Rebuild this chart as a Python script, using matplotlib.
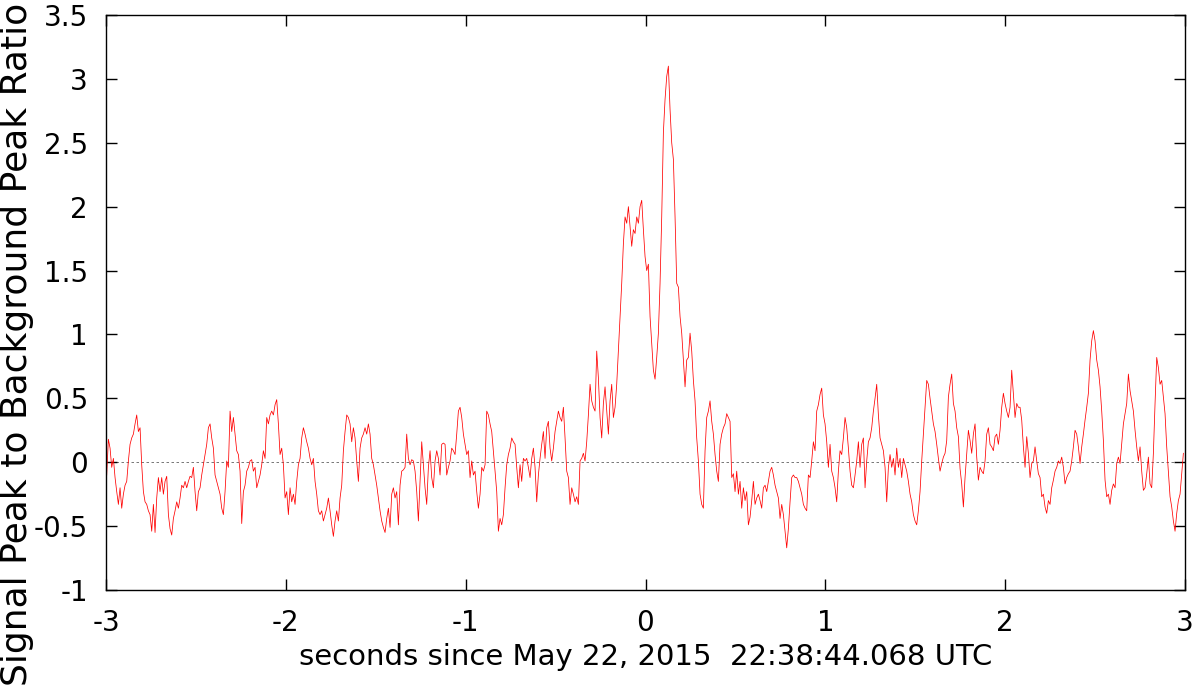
import numpy as np
import matplotlib
matplotlib.use("Agg")
import matplotlib.pyplot as plt
from matplotlib.ticker import FuncFormatter

# Signal-peak / background-peak ratio.
# Uniformly sampled from T_START to T_END (seconds), split into chunks.
T_START = -2.996
T_END = 2.991

ratio_a = [
    -0.10, 0.18, 0.11, -0.04, 0.03, -0.12, -0.23, -0.33, -0.20, -0.36,
    -0.25, -0.18, -0.15, 0.01, 0.14, 0.19, 0.22, 0.30, 0.37, 0.24,
    0.27, -0.02, -0.23, -0.31, -0.33, -0.38, -0.41, -0.54, -0.33, -0.55,
    -0.28, -0.12, -0.23, -0.12, -0.25, -0.15, -0.11, -0.41, -0.52, -0.57,
    -0.44, -0.38, -0.31, -0.36, -0.28, -0.18, -0.20, -0.15, -0.20, -0.15,
    -0.11, -0.12, -0.04, -0.23, -0.38, -0.23, -0.20, -0.10, -0.02, 0.06,
    0.14, 0.27, 0.30, 0.19, 0.11, -0.10, -0.15, -0.20, -0.25, -0.36,
    -0.41, -0.23, 0.01, -0.04, 0.40, 0.24, 0.35, 0.22, 0.09, 0.06,
    -0.07, -0.48, -0.23, -0.18, -0.07, -0.04, 0.01, 0.02, -0.07, -0.04,
    -0.20, -0.15, -0.10, -0.02, 0.09, 0.03, 0.35, 0.30, 0.37, 0.40,
    0.37, 0.45, 0.49, 0.30, 0.06, 0.11, -0.02, -0.28, -0.23, -0.41,
    -0.20, -0.31, -0.25, -0.33, -0.15, -0.02, 0.03,
]

ratio_b = [
    0.19, 0.27, 0.22, 0.16, 0.11, 0.03, -0.02, 0.03,
    -0.15, -0.25, -0.38, -0.41, -0.38, -0.46, -0.41, -0.36, -0.28, -0.38,
    -0.49, -0.58, -0.46, -0.38, -0.46, -0.28, -0.18, 0.09, 0.24, 0.37,
    0.35, 0.30, 0.16, 0.27, 0.19, 0.01, -0.15, 0.11, 0.19, 0.22,
    0.27, 0.22, 0.30, 0.22, 0.03, -0.02, -0.10, -0.18, -0.28, -0.38,
    -0.46, -0.51, -0.55, -0.44, -0.36, -0.51, -0.25, -0.20, -0.28, -0.23,
    -0.49, -0.18, -0.07, -0.06, -0.04, 0.22, 0.03, -0.02, 0.02, 0.01,
    -0.07, -0.23, -0.46, -0.15, 0.16, -0.02, -0.20, -0.33, -0.04, 0.09,
    -0.12, -0.20, 0.01, 0.09, 0.03, -0.10, 0.14, 0.15, 0.14, -0.10,
    -0.04, 0.01, 0.11, 0.09, 0.06, 0.22, 0.40, 0.43, 0.35, 0.22,
    0.14, 0.06, 0.09, -0.12, 0.01, -0.10, -0.07, -0.23, -0.36, -0.25,
]

ratio_c = [
    -0.04, -0.07, -0.02, 0.40, 0.37, 0.30, 0.24, 0.09, -0.07, -0.23,
    -0.54, -0.44, -0.49, -0.41, -0.20, -0.02, 0.06, 0.11, 0.19, 0.16,
    0.14, -0.04, -0.20, -0.02, -0.15, 0.03, 0.01, 0.03, -0.04, -0.12,
    0.03, 0.11, -0.04, -0.31, -0.10, 0.03, 0.14, 0.24, 0.03, 0.27,
    0.32, 0.11, 0.01, 0.11, 0.24, 0.32, 0.40, 0.35, 0.32, 0.43,
    0.19, -0.07, -0.12, -0.33, -0.20, -0.25, -0.31, -0.27, -0.33, 0.01,
    0.03, 0.07, 0.01, 0.16, 0.37, 0.61, 0.48, 0.43,
]

# the burst
ratio_d = [
    0.40, 0.87, 0.66, 0.35, 0.19, 0.46, 0.59, 0.40, 0.22, 0.48,
    0.61, 0.35, 0.43, 0.61, 0.87, 1.14, 1.40, 1.71, 1.92, 1.87,
    2.00, 1.84, 1.69, 1.82, 1.79, 1.92, 1.87, 2.00, 2.05, 1.82,
    1.61, 1.50, 1.55, 1.14, 0.93, 0.72, 0.65, 0.82, 1.01, 1.40,
    1.92, 2.58, 2.84, 3.02, 3.10, 2.76, 2.50, 2.37, 1.92, 1.40,
    1.37, 1.14, 1.01, 0.80, 0.59, 0.80, 0.82, 1.01, 0.87, 0.64,
    0.48, 0.19, 0.01, -0.25, -0.33, -0.36, 0.09, 0.35, 0.40, 0.48,
    0.32, 0.22, 0.06, -0.07, -0.15, 0.14, 0.22, 0.27, 0.30, 0.38,
    0.35, 0.32, -0.12, -0.09, -0.23, -0.07, -0.25, -0.15, -0.36, -0.20,
    -0.30, -0.23, -0.49, -0.43, -0.30, -0.15, -0.33, -0.28, -0.25, -0.30,
]

ratio_e = [
    -0.36, -0.20, -0.18, -0.23, -0.15, -0.07, -0.04, -0.10,
    -0.18, -0.23, -0.28, -0.44, -0.33, -0.41, -0.54, -0.67, -0.52, -0.31,
    -0.12, -0.10, -0.12, -0.12, -0.15, -0.20, -0.25, -0.33, -0.36, -0.38,
    -0.10, -0.12, 0.01, 0.16, 0.09, 0.40, 0.45, 0.53, 0.58, 0.37,
    0.30, 0.16, -0.04, 0.14, -0.07, -0.12, -0.20, -0.31, -0.07, 0.09,
    0.06, 0.19, 0.35, 0.27, 0.11, -0.07, -0.18, -0.20, -0.10, 0.01,
    0.16, -0.04, 0.14, 0.19, -0.20, 0.01, 0.16, 0.19, 0.27, 0.40,
    0.50, 0.61, 0.37, 0.19, 0.14, 0.09, -0.04, -0.31, -0.04, 0.06,
    -0.04, 0.03, -0.10, 0.11, -0.04, 0.03, -0.12, 0.03, -0.02, -0.07,
    -0.15, -0.25, -0.31, -0.41, -0.46, -0.49, -0.38, -0.23, 0.01, 0.22,
    0.43, 0.64, 0.61, 0.50, 0.40, 0.30, 0.24, 0.14, 0.03, -0.07,
]

ratio_f = [
    -0.01, 0.04, 0.07, 0.17, 0.51, 0.61, 0.69, 0.46, 0.40, 0.27,
    0.20, -0.05, -0.17, -0.35, -0.12, 0.07, 0.25, 0.17, 0.07, 0.22,
    0.30, 0.04, -0.14, -0.04, -0.07, -0.09, 0.01, 0.22, 0.27, 0.14,
    0.12, 0.09, 0.20, 0.22, 0.14, 0.25, 0.43, 0.54, 0.46, 0.40,
    0.35, 0.43, 0.72, 0.54, 0.35, 0.46, 0.43, 0.43, 0.33, 0.12,
    -0.04, 0.20, 0.07, -0.12, -0.01, 0.01, 0.12, 0.01, -0.09, -0.12,
    -0.27, -0.25, -0.35, -0.40, -0.30, -0.33, -0.20, -0.14, -0.07, -0.04,
    0.01, -0.01, 0.04, -0.04, -0.17, -0.12, -0.09, -0.07, 0.01, 0.12,
    0.25, 0.22, 0.12, -0.01, 0.12, 0.22, 0.33, 0.43, 0.54, 0.80,
    0.95, 1.03, 0.95, 0.80, 0.72, 0.59, 0.40, 0.17, -0.14, -0.27,
    -0.25, -0.33, -0.22, -0.17, -0.20, -0.01, 0.04, -0.01, 0.14, 0.30,
    0.38, 0.46, 0.69, 0.56, 0.48, 0.40, 0.25, 0.12, 0.01, 0.12,
    -0.07, -0.22, -0.20, -0.09, 0.04, -0.17, -0.20, 0.07, 0.46, 0.82,
    0.74, 0.61, 0.64, 0.51, 0.38, 0.12, -0.07, -0.27, -0.35, -0.46,
    -0.54, -0.40, -0.30, -0.25, -0.09, 0.07,
]

x_ticks = [-3, -2, -1, 0, 1, 2, 3]
y_ticks = [-1, -0.5, 0, 0.5, 1, 1.5, 2, 2.5, 3, 3.5]

ratio = np.array(ratio_a + ratio_b + ratio_c + ratio_d + ratio_e + ratio_f)
t = np.linspace(T_START, T_END, len(ratio))

plt.rcParams['font.family'] = ['DejaVu Sans']
plt.rcParams['axes.unicode_minus'] = False

fig = plt.figure(figsize=(12, 6.88), dpi=100)
ax = fig.add_axes([106 / 1200, 98 / 688, 1079 / 1200, 575 / 688])

ax.axhline(0, color='#606060', lw=0.6, ls=(0, (3, 3)), zorder=1)
ax.plot(t, ratio, color='red', lw=0.55, zorder=2)

ax.set_xlim(-3, 3)
ax.set_ylim(-1, 3.5)
ax.set_xticks(x_ticks)
ax.set_yticks(y_ticks)
fmt = FuncFormatter(lambda v, p: f'{v:g}')
ax.xaxis.set_major_formatter(fmt)
ax.yaxis.set_major_formatter(fmt)

ax.tick_params(direction='in', length=8, width=1.0, top=True, right=True,
               labelsize=20, colors='black')
ax.tick_params(axis='x', pad=14)
ax.tick_params(axis='y', pad=13)
for sp in ax.spines.values():
    sp.set_linewidth(1.0)

fig.text(645.5 / 1200, (688 - 665) / 688,
         'seconds since May 22, 2015  22:38:44.068 UTC',
         ha='center', va='baseline', fontsize=21)
fig.text(17 / 1200, 0.5, 'Signal Peak to Background Peak Ratio',
         ha='center', va='center', rotation=90, fontsize=26)

fig.savefig('out.png', dpi=100)
